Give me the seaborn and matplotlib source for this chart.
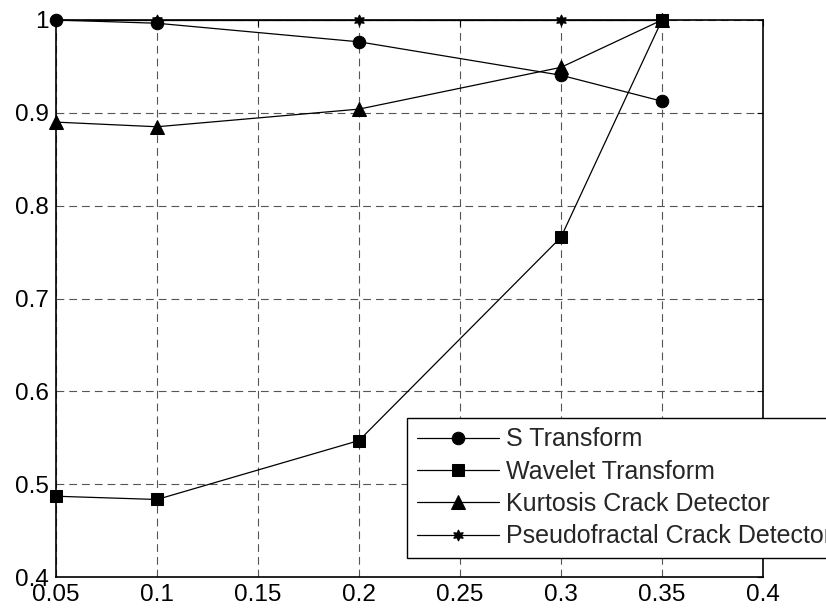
import matplotlib
matplotlib.use("Agg")
import matplotlib.pyplot as plt
import seaborn as sns

# data
x = [0.05, 0.1, 0.2, 0.3, 0.35]
s_transform = [1.0, 0.9965, 0.9765, 0.9405, 0.9125]
wavelet = [0.487, 0.4835, 0.547, 0.766, 1.0]
kurtosis = [0.890, 0.885, 0.904, 0.949, 1.0]
pseudofractal = [1.0, 1.0, 1.0, 1.0, 1.0]

labels = ["S Transform", "Wavelet Transform", "Kurtosis Crack Detector",
          "Pseudofractal Crack Detector"]
series = [s_transform, wavelet, kurtosis, pseudofractal]
markers = ["o", "s", "^", (6, 1, 0)]
msizes = [9, 9, 10, 8]

x_ticks = [0.05, 0.1, 0.15, 0.2, 0.25, 0.3, 0.35, 0.4]
x_ticklabels = ["0.05", "0.1", "0.15", "0.2", "0.25", "0.3", "0.35", "0.4"]
y_ticks = [0.4, 0.5, 0.6, 0.7, 0.8, 0.9, 1.0]
y_ticklabels = ["0.4", "0.5", "0.6", "0.7", "0.8", "0.9", "1"]

sns.set_style("white")
plt.rcParams["font.family"] = ["Liberation Sans", "DejaVu Sans"]

fig = plt.figure(figsize=(8.26, 6.08), dpi=100)
ax = fig.add_axes([56 / 826, 1 - 577 / 608, 707 / 826, 557 / 608])

for vals, lab, m, ms in zip(series, labels, markers, msizes):
    sns.lineplot(x=x, y=vals, ax=ax, color="black", linewidth=0.9,
                 marker=m, markersize=ms, markeredgecolor="black",
                 markerfacecolor="black", label=lab, clip_on=False, zorder=3)

ax.set_xlim(0.05, 0.4)
ax.set_ylim(0.4, 1.0)
ax.set_xticks(x_ticks)
ax.set_xticklabels(x_ticklabels)
ax.set_yticks(y_ticks)
ax.set_yticklabels(y_ticklabels)
ax.tick_params(direction="in", length=4, width=0.8, labelsize=17.5, colors="black",
               top=True, right=True, pad=5)
ax.grid(True, color="#555555", linestyle=(0, (7, 4.5)), linewidth=0.8)
for sp in ax.spines.values():
    sp.set_color("black")
    sp.set_linewidth(1.2)

leg = ax.legend(loc="upper left", bbox_to_anchor=(351 / 707, 159 / 557),
                fontsize=18, frameon=True, fancybox=False, edgecolor="black",
                framealpha=1, handlelength=3.3, handletextpad=0.28,
                labelspacing=0.33, borderpad=0.38, borderaxespad=0)
leg.get_frame().set_linewidth(1.0)

fig.savefig("out.png", dpi=100)
